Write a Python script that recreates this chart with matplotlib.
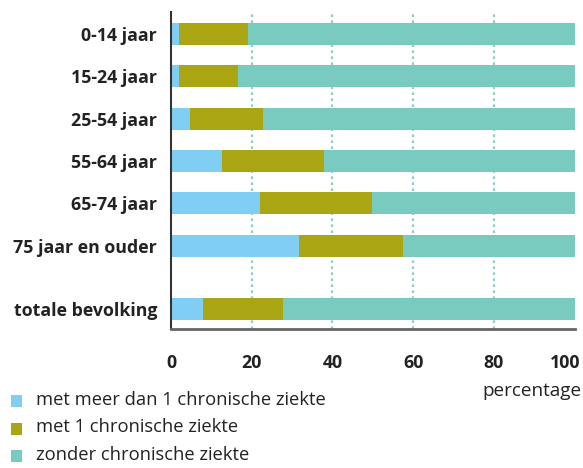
import matplotlib.pyplot as plt
from matplotlib.patches import Rectangle
from matplotlib.transforms import ScaledTranslation

categories = ["0-14 jaar", "15-24 jaar", "25-54 jaar", "55-64 jaar",
              "65-74 jaar", "75 jaar en ouder", "totale bevolking"]
meer_dan_1 = [2.0, 2.0, 4.7, 12.7, 22.1, 31.6, 8.0]
met_1 = [17.0, 14.6, 18.2, 25.3, 27.8, 25.8, 19.8]
zonder = [100 - a - b for a, b in zip(meer_dan_1, met_1)]
positions = [0, 1, 2, 3, 4, 5, 6.5]

legend_labels = ["met meer dan 1 chronische ziekte", "met 1 chronische ziekte",
                 "zonder chronische ziekte"]
colors = ["#80cef4", "#a9a513", "#79cabf"]

plt.rcParams['font.family'] = ['Open Sans', 'DejaVu Sans']

W, H = 583, 468
fig = plt.figure(figsize=(W / 100, H / 100), dpi=100)
ax = fig.add_axes([171 / W, 1 - 329 / H, (574.5 - 171) / W, (329 - 12) / H])

left = [0] * len(categories)
for vals, col in zip([meer_dan_1, met_1, zonder], colors):
    ax.barh(positions, vals, left=left, height=0.52, color=col, zorder=2)
    left = [l + v for l, v in zip(left, vals)]

ax.set_xlim(0, 100)
ax.set_ylim(6.97, -0.52)
ax.set_xticks([0, 20, 40, 60, 80, 100])
ax.set_xticklabels(["0", "20", "40", "60", "80", "100"], fontsize=12.8, fontweight='bold', color='#222222')
ax.set_yticks(positions)
ax.set_yticklabels(categories, fontsize=12.8, fontweight='bold', color='#222222')
ax.tick_params(axis='x', length=0, pad=18)
ax.tick_params(axis='y', length=0, pad=10)

# last tick label sits right-aligned against the edge
lab = ax.get_xticklabels()[-1]
lab.set_ha('right')
lab.set_transform(lab.get_transform() + ScaledTranslation(6 / 100, 0, fig.dpi_scale_trans))

for x in [20, 40, 60, 80]:
    ax.axvline(x, color='#8fcfc5', linestyle=(0, (1.2, 1.5)), linewidth=1.6, zorder=1)

for s in ['top', 'right']:
    ax.spines[s].set_visible(False)
ax.spines['left'].set_color('#333333')
ax.spines['left'].set_linewidth(1.5)
ax.spines['bottom'].set_color('#666666')
ax.spines['bottom'].set_linewidth(2)

fig.text(582 / W, 1 - 391 / H, "percentage", ha='right', va='center', fontsize=13.6, color='#222222')

# legend
for i, (lbl, col) in enumerate(zip(legend_labels, colors)):
    yc = 401 + i * 27.5
    fig.patches.append(Rectangle((11 / W, 1 - (yc + 6) / H), 11 / W, 12 / H,
                                 facecolor=col, edgecolor='none', transform=fig.transFigure))
    fig.text(36 / W, 1 - (yc - 1) / H, lbl, ha='left', va='center', fontsize=13.2, color='#222222')

fig.savefig("out.png", dpi=100)
